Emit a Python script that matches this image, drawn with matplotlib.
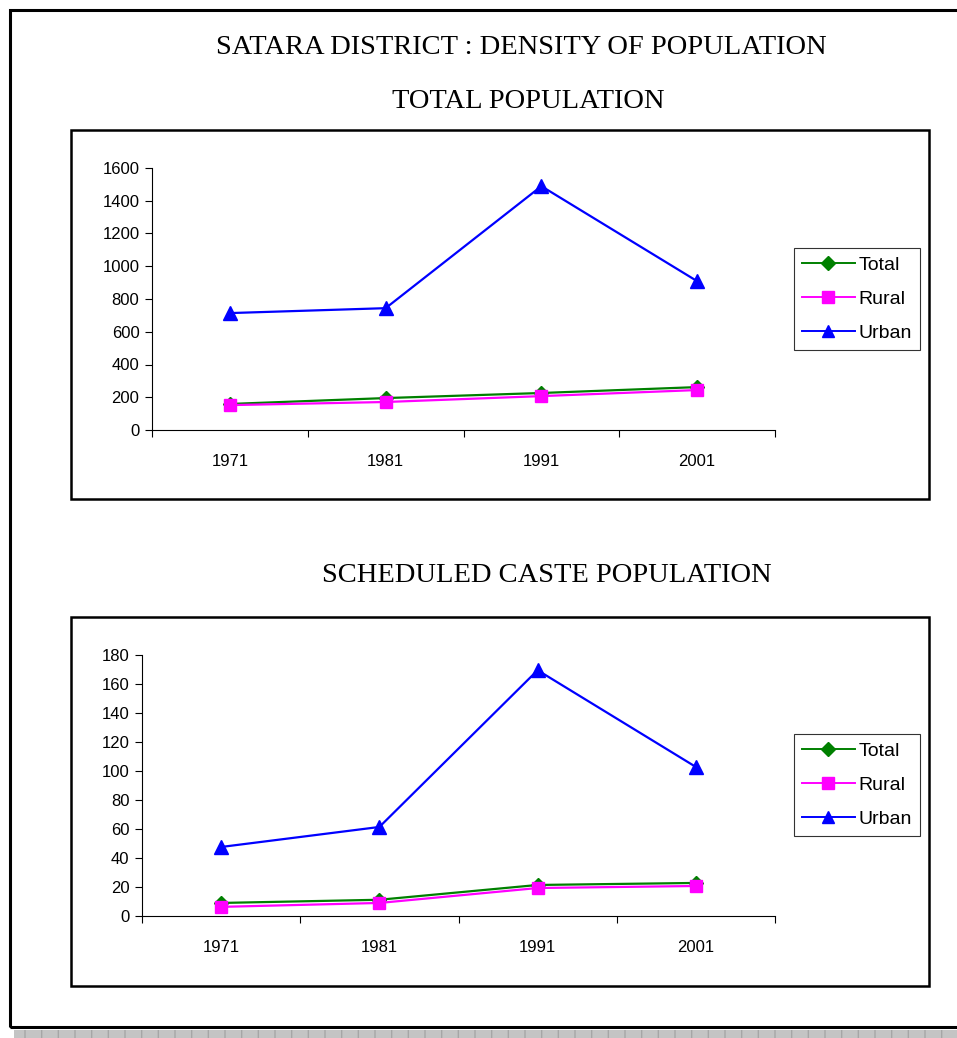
import matplotlib
matplotlib.use("Agg")
import matplotlib.pyplot as plt
from matplotlib.patches import Rectangle
from matplotlib.lines import Line2D

years = ["1971", "1981", "1991", "2001"]

# density, persons per sq. km
total_all = [159, 195, 226, 262]
rural_all = [152, 171, 207, 244]
urban_all = [714, 744, 1489, 909]

total_sc = [9.0, 11.2, 21.4, 22.8]
rural_sc = [6.3, 9.0, 19.3, 20.7]
urban_sc = [47.6, 61.4, 169.5, 102.8]

W, H = 957, 1038
fig = plt.figure(figsize=(W / 100, H / 100), dpi=100)
fig.patch.set_facecolor("white")


def px_box(x0, y0, x1, y1):
    # pixel box (top-left origin) -> figure fraction [l, b, w, h]
    return [x0 / W, 1 - y1 / H, (x1 - x0) / W, (y1 - y0) / H]


def frame(x0, y0, x1, y1, lw):
    l, b, w, h = px_box(x0, y0, x1, y1)
    fig.patches.append(Rectangle((l, b), w, h, transform=fig.transFigure,
                                 fill=False, edgecolor="black", linewidth=lw, zorder=0))


# page outline and the shaded strip underneath
frame(10, 10, 962, 1027, 2.2)
l, b, w, h = px_box(14, 1030, 957, 1038)
fig.patches.append(Rectangle((l, b), w, h, transform=fig.transFigure,
                             facecolor="#c4c4c4", edgecolor="#a6a6a6", hatch="|",
                             linewidth=0, zorder=0))

title_font = dict(family="Liberation Serif", fontsize=20.5, color="black")
fig.text(521 / W, 1 - 47 / H, "SATARA DISTRICT : DENSITY OF POPULATION",
         ha="center", va="center", **title_font)
fig.text(528 / W, 1 - 101 / H, "TOTAL POPULATION", ha="center", va="center", **title_font)
fig.text(547 / W, 1 - 575 / H, "SCHEDULED CASTE POPULATION",
         ha="center", va="center", **title_font)


def draw_panel(box, area, legend_center, total, rural, urban, ymax, ystep):
    frame(*box, 1.8)
    ax = fig.add_axes(px_box(*area))
    x = range(len(years))
    ax.plot(x, total, color="green", lw=1.6, marker="D", ms=7,
            mfc="green", mec="green", label="Total", zorder=3)
    ax.plot(x, rural, color="magenta", lw=1.6, marker="s", ms=8,
            mfc="magenta", mec="magenta", label="Rural", zorder=3)
    ax.plot(x, urban, color="blue", lw=1.6, marker="^", ms=9.5,
            mfc="blue", mec="blue", label="Urban", zorder=4)

    ax.set_xlim(-0.5, len(years) - 0.5)
    ax.set_ylim(0, ymax)
    ax.set_yticks(range(0, ymax + 1, ystep))
    ax.set_xticks([i - 0.5 for i in range(len(years) + 1)])
    ax.set_xticklabels([])
    ax.set_xticks(list(x), minor=True)
    ax.set_xticklabels(years, minor=True)
    ax.tick_params(axis="x", which="major", direction="out", length=5, width=0.8)
    ax.tick_params(axis="x", which="minor", length=0, pad=17)
    ax.tick_params(axis="y", direction="out", length=5, width=0.8, pad=4)
    for lab in ax.get_xticklabels(minor=True) + ax.get_yticklabels():
        lab.set_family("Liberation Sans")
        lab.set_fontsize(12)
    for side in ("top", "right"):
        ax.spines[side].set_visible(False)
    for side in ("left", "bottom"):
        ax.spines[side].set_linewidth(0.8)
    ax.patch.set_alpha(0)

    handles = [Line2D([], [], color="green", lw=1.4, marker="D", ms=7),
               Line2D([], [], color="magenta", lw=1.4, marker="s", ms=8),
               Line2D([], [], color="blue", lw=1.4, marker="^", ms=9)]
    leg = fig.legend(handles, ["Total", "Rural", "Urban"], loc="center",
                     bbox_to_anchor=(legend_center[0] / W, 1 - legend_center[1] / H),
                     prop={"family": "Liberation Sans", "size": 14},
                     frameon=True, fancybox=False, edgecolor="black",
                     handlelength=2.7, handletextpad=0.2, labelspacing=0.85,
                     borderpad=0.4, borderaxespad=0)
    leg.get_frame().set_linewidth(0.8)
    return ax


draw_panel((71, 130, 929, 499), (152, 168, 775, 430), (857, 299),
           total_all, rural_all, urban_all, 1600, 200)
draw_panel((71, 617, 929, 986), (142, 655, 775, 916), (857, 785),
           total_sc, rural_sc, urban_sc, 180, 20)

fig.savefig("out.png", dpi=100)
